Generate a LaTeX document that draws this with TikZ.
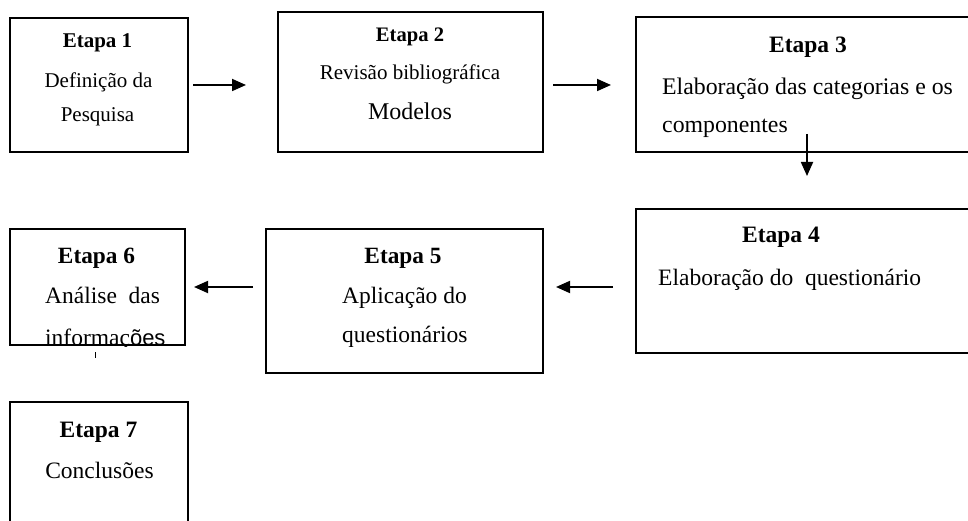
\documentclass[tikz,border=0pt]{standalone}
\usepackage{fontspec}
\setmainfont{Liberation Serif}
\newfontfamily\arialfont{Liberation Sans}
\usetikzlibrary{arrows.meta}
\tikzset{
  stagebox/.style={draw, line width=1.8pt, inner sep=0pt, outer sep=0pt},
  txt/.style={anchor=base, inner sep=0pt},
  txtl/.style={anchor=base west, inner sep=0pt},
  flow/.style={line width=1.8pt, -{Triangle[length=14pt,width=12pt]}},
}
\newcommand{\fs}[1]{\fontsize{#1}{#1}\selectfont}
\begin{document}
\begin{tikzpicture}[x=1pt,y=-1pt]
\clip (0,0) rectangle (968,521);
\fill[white] (0,0) rectangle (968,521);
% boxes
\node[stagebox, minimum width=178pt, minimum height=134pt] (b1) at (99,85) {};
\node[stagebox, minimum width=265pt, minimum height=140pt] (b2) at (410.5,82) {};
\node[stagebox, minimum width=342pt, minimum height=135pt] (b3) at (807,84.5) {};
\node[stagebox, minimum width=354pt, minimum height=144pt] (b4) at (813,281) {};
\node[stagebox, minimum width=277pt, minimum height=144pt] (b5) at (404.5,301) {};
\node[stagebox, minimum width=175pt, minimum height=116pt] (b6) at (97.5,287) {};
\node[stagebox, minimum width=178pt, minimum height=138pt] (b7) at (99,471) {};
% texts box 1
\node[txt] (t1a) at (97.5,48) {\fs{21}\bfseries Etapa 1};
\node[txt] (t1b) at (98.5,88) {\fs{21}Definição da};
\node[txt] (t1c) at (97.5,122) {\fs{21}Pesquisa};
% box 2
\node[txt] (t2a) at (410,42) {\fs{20.6}\bfseries Etapa 2};
\node[txt] (t2b) at (410,80) {\fs{21}Revisão bibliográfica};
\node[txt] (t2c) at (410,120) {\fs{24}Modelos};
% box 3
\node[txt] (t3a) at (808,53) {\fs{23.5}\bfseries Etapa 3};
\node[txt] (t3b) at (807.5,95) {\fs{23.8}Elaboração das categorias e os};
\node[txtl] (t3c) at (662,133) {\fs{23.8}componentes};
% box 4
\node[txt] (t4a) at (781,243) {\fs{23.5}\bfseries Etapa 4};
\node[txtl] (t4b) at (658,285) {\fs{23.5}Elaboração do\ \ questionário};
% box 5
\node[txt] (t5a) at (403,263) {\fs{23.3}\bfseries Etapa 5};
\node[txtl] (t5b) at (342,303) {\fs{23.5}Aplicação do};
\node[txtl] (t5c) at (342,342) {\fs{23.5}questionários};
% box 6
\node[txt] (t6a) at (96.5,263) {\fs{23.3}\bfseries Etapa 6};
\node[txtl] (t6b) at (45,303) {\fs{23.5}Análise\ \ das};
\begin{scope}
\clip (b6.north west) rectangle ([yshift=-1pt]b6.south east);
\node[txtl] (t6c) at (45,345) {\fs{23.5}informaç{\arialfont\fs{22}ões}};
\end{scope}
\node[stagebox, minimum width=175pt, minimum height=116pt] (b6b) at (97.5,287) {};
% box 7
\node[txt] (t7a) at (98.5,437) {\fs{23.5}\bfseries Etapa 7};
\node[txt] (t7b) at (99.5,478) {\fs{23.5}Conclusões};
% arrow coordinates
\coordinate (a1s) at (193,85);
\coordinate (a1e) at (246,85);
\coordinate (a2s) at (553,85);
\coordinate (a2e) at (611,85);
\coordinate (a3s) at (807,134);
\coordinate (a3e) at (807,176);
\coordinate (a4s) at (613,287);
\coordinate (a4e) at (556,287);
\coordinate (a5s) at (253,287);
\coordinate (a5e) at (194,287);
\coordinate (tk1) at (95,352);
\coordinate (tk2) at (95,358);
\draw[flow] (a1s) -- (a1e);
\draw[flow] (a2s) -- (a2e);
\draw[flow] (a3s) -- (a3e);
\draw[flow] (a4s) -- (a4e);
\draw[flow] (a5s) -- (a5e);
\draw[line width=1pt] (tk1) -- (tk2);
\end{tikzpicture}
\end{document}
